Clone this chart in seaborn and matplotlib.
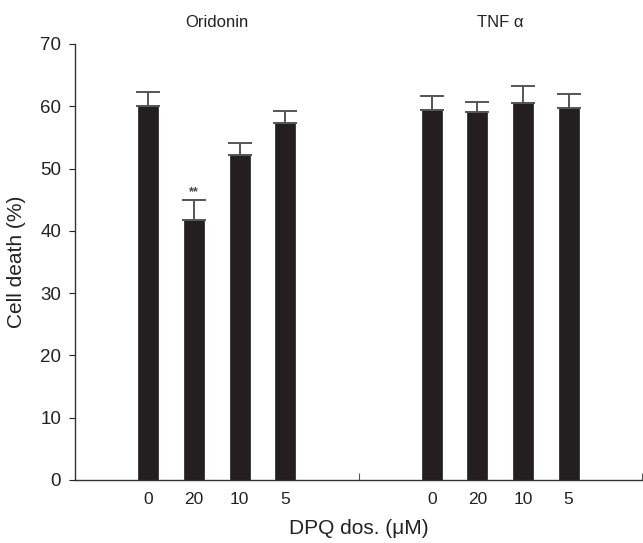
import matplotlib
matplotlib.use("Agg")
import matplotlib.pyplot as plt
import seaborn as sns
import pandas as pd
import numpy as np

groups = ["Oridonin", "TNF α"]
doses = ["0", "20", "10", "5"]
oridonin_vals = [60.0, 41.7, 52.2, 57.3]
oridonin_err = [2.3, 3.3, 1.9, 2.0]
tnf_vals = [59.4, 59.1, 60.5, 59.7]
tnf_err = [2.3, 1.6, 2.8, 2.2]
oridonin_stars = ["", "**", "", ""]
tnf_stars = ["", "", "", ""]

sns.set_theme(style="white")
plt.rcParams["font.family"] = ["Liberation Sans", "DejaVu Sans"]

# layout (x in units of bar spacing)
group_w = 6.22
first_off = 1.61
rows = []
for gi, (vals, errs, stars) in enumerate([(oridonin_vals, oridonin_err, oridonin_stars),
                                          (tnf_vals, tnf_err, tnf_stars)]):
    for i, (v, e, s) in enumerate(zip(vals, errs, stars)):
        rows.append({"group": groups[gi], "dose": doses[i],
                     "pos": gi * group_w + first_off + i, "value": v, "err": e,
                     "star": s})
df = pd.DataFrame(rows)

fig = plt.figure(figsize=(6.43, 5.43), dpi=100)
ax = fig.add_axes([75 / 643, 63 / 543, 567 / 643, 436 / 543])

sns.barplot(data=df, x="pos", y="value", native_scale=True, width=0.44,
            color="#231f20", saturation=1, edgecolor="#231f20", linewidth=0.5,
            errorbar=None, ax=ax)
ax.errorbar(df["pos"], df["value"], yerr=[np.zeros(len(df)), df["err"]],
            fmt="none", ecolor="#555555", elinewidth=1.4, capsize=8.5,
            capthick=1.4)

for p, v, e, s in zip(df["pos"], df["value"], df["err"], df["star"]):
    if s:
        ax.text(p, v + e + 0.2, s, ha="center", va="bottom", fontsize=9,
                color="#444444", fontweight="bold")

ax.set_xlim(0, 2 * group_w)
ax.set_ylim(0, 70)
ax.set_yticks(np.arange(0, 71, 10))
ax.tick_params(axis="y", labelsize=13.5, length=4, width=0.8, direction="out",
               left=True, pad=6, colors="#222222")
ax.set_xticks(df["pos"])
ax.set_xticklabels(list(df["dose"]))
ax.tick_params(axis="x", which="major", length=0, labelsize=12.5, pad=9,
               colors="#222222")
ax.set_xticks([group_w, 2 * group_w], minor=True)
ax.tick_params(axis="x", which="minor", direction="in", length=5, width=0.8,
               bottom=True, color="#555555")

for s in ["top", "right"]:
    ax.spines[s].set_visible(False)
for s in ["left", "bottom"]:
    ax.spines[s].set_color("#333333")
    ax.spines[s].set_linewidth(1.0)

ax.set_ylabel("Cell death (%)", fontsize=15, color="#222222", labelpad=10)
ax.set_xlabel("DPQ dos. (μM)", fontsize=15, color="#222222", labelpad=8)

for gi, g in enumerate(groups):
    ax.text(gi * group_w + group_w / 2, 1.05, g,
            transform=ax.get_xaxis_transform(), ha="center", va="center",
            fontsize=12, color="#222222")

fig.savefig("out.png", dpi=100)
